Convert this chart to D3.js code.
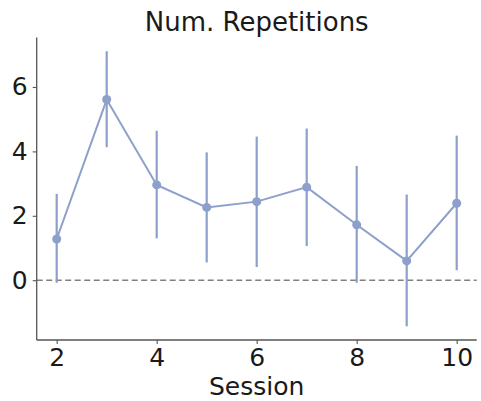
<!DOCTYPE html>
<html>
<head>
<meta charset="utf-8">
<script src="https://cdn.jsdelivr.net/npm/d3@7"></script>
<style>
  html, body { margin: 0; padding: 0; background: #fff; }
  svg { display: block; font-family: "DejaVu Sans", sans-serif; }
</style>
</head>
<body>
<svg id="chart" width="481" height="401"></svg>
<script>
// Mean repetitions per session with error bars
const sessions = [2, 3, 4, 5, 6, 7, 8, 9, 10];
const means    = [1.28, 5.61, 2.96, 2.26, 2.44, 2.89, 1.72, 0.60, 2.39];
const errLow   = [-0.08, 4.13, 1.30, 0.55, 0.41, 1.06, -0.08, -1.43, 0.31];
const errHigh  = [2.68, 7.11, 4.64, 3.97, 4.46, 4.71, 3.55, 2.66, 4.49];
const xTicks   = [2, 4, 6, 8, 10];
const yTicks   = [0, 2, 4, 6];

const color = "#8da0cb";
const svg = d3.select("#chart");
const margin = { left: 36.7, right: 4.3, top: 37.5, bottom: 61 };
const W = 481, H = 401;

// matplotlib-style 5% padding around data extent
const xMin = d3.min(sessions), xMax = d3.max(sessions);
const xPad = (xMax - xMin) * 0.05;
const yMin = d3.min(errLow), yMax = d3.max(errHigh);
const yPad = (yMax - yMin) * 0.05;

const x = d3.scaleLinear().domain([xMin - xPad, xMax + xPad]).range([margin.left, W - margin.right]);
const y = d3.scaleLinear().domain([yMin - yPad, yMax + yPad]).range([H - margin.bottom, margin.top]);

const data = sessions.map((s, i) => ({ s, m: means[i], lo: errLow[i], hi: errHigh[i] }));

// zero reference line
svg.append("line")
  .attr("x1", x.range()[0]).attr("x2", x.range()[1])
  .attr("y1", y(0)).attr("y2", y(0))
  .attr("stroke", "#808080").attr("stroke-width", 1.6)
  .attr("stroke-dasharray", "6,3.5");

// error bars
svg.append("g").selectAll("line").data(data).join("line")
  .attr("x1", d => x(d.s)).attr("x2", d => x(d.s))
  .attr("y1", d => y(d.lo)).attr("y2", d => y(d.hi))
  .attr("stroke", color).attr("stroke-width", 2.2);

// mean line
svg.append("path").datum(data)
  .attr("fill", "none").attr("stroke", color).attr("stroke-width", 2)
  .attr("d", d3.line().x(d => x(d.s)).y(d => y(d.m)));

// markers
svg.append("g").selectAll("circle").data(data).join("circle")
  .attr("cx", d => x(d.s)).attr("cy", d => y(d.m)).attr("r", 4.5)
  .attr("fill", color);

// axes
const fs = "25px";
const xAxis = svg.append("g").attr("transform", `translate(0,${H - margin.bottom})`)
  .call(d3.axisBottom(x).tickValues(xTicks).tickSize(4).tickPadding(4).tickFormat(d3.format("d")));
const yAxis = svg.append("g").attr("transform", `translate(${margin.left},0)`)
  .call(d3.axisLeft(y).tickValues(yTicks).tickSize(4).tickPadding(5).tickFormat(d3.format("d")));
[xAxis, yAxis].forEach(a => {
  a.select(".domain").attr("stroke", "#555").attr("stroke-width", 1.3);
  a.selectAll(".tick line").attr("stroke", "#555").attr("stroke-width", 1.1);
  a.selectAll(".tick text").attr("fill", "#1a1a1a").style("font-size", fs).style("font-family", "DejaVu Sans");
});
// plain spine lines without outer ticks
xAxis.select(".domain").attr("d", `M${x.range()[0]},0H${x.range()[1]}`);
yAxis.select(".domain").attr("d", `M0,${y.range()[0]}V${y.range()[1]}`);

// title and label
svg.append("text").attr("x", (x.range()[0] + x.range()[1]) / 2).attr("y", 31)
  .attr("text-anchor", "middle").attr("fill", "#1a1a1a").style("font-size", "26px")
  .text("Num. Repetitions");
svg.append("text").attr("x", (x.range()[0] + x.range()[1]) / 2).attr("y", 395)
  .attr("text-anchor", "middle").attr("fill", "#1a1a1a").style("font-size", fs)
  .text("Session");
</script>
</body>
</html>
